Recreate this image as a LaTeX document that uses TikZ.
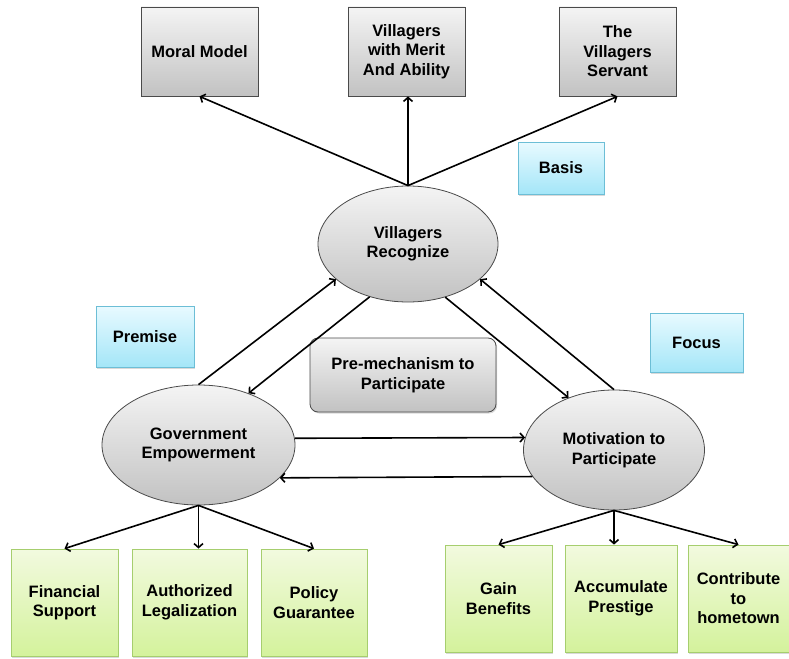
\documentclass[tikz,border=0pt]{standalone}
\usepackage{fontspec}
\setmainfont{Liberation Sans}
\usetikzlibrary{arrows.meta,shapes.geometric,shadows}
\definecolor{grayTop}{HTML}{F4F4F4}
\definecolor{grayBot}{HTML}{C2C2C2}
\definecolor{grayLine}{HTML}{4A4A4A}
\definecolor{blueTop}{HTML}{E8FAFF}
\definecolor{blueBot}{HTML}{A4E6F8}
\definecolor{blueLine}{HTML}{6CBED6}
\definecolor{greenTop}{HTML}{F2FADF}
\definecolor{greenBot}{HTML}{D4F29C}
\definecolor{greenLine}{HTML}{A6CE6E}
\begin{document}
\begin{tikzpicture}[x=1pt,y=-1pt,
  txt/.style={font=\fontsize{16.5}{19.5}\selectfont\bfseries, align=center, inner sep=0pt},
  shd/.style={drop shadow={shadow xshift=1.2pt,shadow yshift=-1.5pt,opacity=0.3}},
  graybox/.style={txt, rectangle, draw=grayLine, line width=0.8pt, top color=grayTop, bottom color=grayBot, shd},
  bluebox/.style={txt, rectangle, draw=blueLine, line width=0.8pt, top color=blueTop, bottom color=blueBot, shd},
  greenbox/.style={txt, rectangle, draw=greenLine, line width=0.8pt, top color=greenTop, bottom color=greenBot, shd},
  oval/.style={txt, ellipse, draw=grayLine, line width=0.8pt, top color=grayTop, bottom color=grayBot},
  conn/.style={line width=1.6pt, -{Straight Barb[length=4pt,width=9pt]}}
]
\useasboundingbox (0,0) rectangle (789,658);
% top boxes
\node[graybox, minimum width=117pt, minimum height=89pt] (moral) at (199.5,51.5) {Moral Model};
\node[graybox, minimum width=117pt, minimum height=89pt] (merit) at (406.5,51.5) {Villagers\\with Merit\\And Ability};
\node[graybox, minimum width=117pt, minimum height=89pt] (servant) at (617.5,51.5) {The\\Villagers\\Servant};
% labels
\node[bluebox, minimum width=86pt, minimum height=52pt] (basis) at (561,168) {Basis};
\node[bluebox, minimum width=98pt, minimum height=61pt] (premise) at (145,336.5) {Premise};
\node[bluebox, minimum width=93pt, minimum height=59pt] (focus) at (696.5,342.5) {Focus};
% central
\node[oval, minimum width=180pt, minimum height=116pt] (vr) at (408,244) {Villagers\\Recognize};
\node[graybox, rounded corners=8pt, minimum width=186pt, minimum height=74pt] (pre) at (403,375) {Pre-mechanism to\\Participate};
\node[oval, minimum width=193pt, minimum height=120pt] (gov) at (198.5,445) {Government\\Empowerment};
\node[oval, minimum width=181pt, minimum height=120pt] (mot) at (614,450) {Motivation to\\Participate};
% bottom boxes
\node[greenbox, minimum width=107pt, minimum height=107pt] (fin) at (64.5,602.5) {Financial\\Support};
\node[greenbox, minimum width=115pt, minimum height=107pt] (auth) at (189.5,602.5) {Authorized\\Legalization};
\node[greenbox, minimum width=106pt, minimum height=107pt] (pol) at (314,602.5) {Policy\\Guarantee};
\node[greenbox, minimum width=107pt, minimum height=107pt] (gain) at (498.5,598.5) {Gain\\Benefits};
\node[greenbox, minimum width=112pt, minimum height=107pt] (acc) at (621,598.5) {Accumulate\\Prestige};
\node[greenbox, minimum width=101pt, minimum height=107pt] (con) at (738.5,598.5) {Contribute\\to\\hometown};
% top arrows
\draw[conn] (vr.north) -- (moral.south);
\draw[conn] (vr.north) -- (vr.north |- merit.south);
\draw[conn] (vr.north) -- (servant.south);
% triangle arrows
\draw[conn] (gov.90) -- (vr.206);
\draw[conn] (vr.234) -- (gov.46);
\draw[conn] (vr.305) -- (mot.131);
\draw[conn] (mot.90) -- (vr.334);
\draw[conn] (gov.4.2) -- (mot.172.3);
\draw[conn] (mot.198.6) -- (gov.338.6);
% bottom arrows
\draw[conn] (gov.south) -- (fin.north);
\draw[conn] (gov.south) -- (gov.south |- auth.north);
\draw[conn] (gov.south) -- (pol.north);
\draw[conn] (mot.south) -- (gain.north);
\draw[conn] (mot.south) -- (mot.south |- acc.north);
\draw[conn] (mot.south) -- (con.north);
\end{tikzpicture}
\end{document}
